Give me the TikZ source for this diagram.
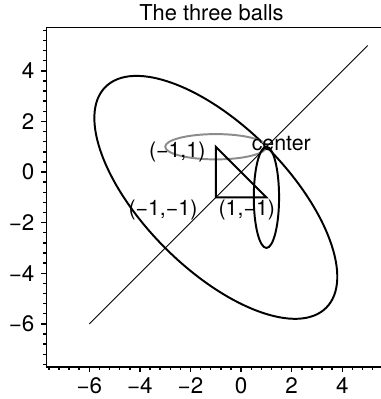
\documentclass[tikz,border=0pt]{standalone}
\usepackage{fontspec}
\setmainfont{TeX Gyre Heros}
\usetikzlibrary{positioning}
\definecolor{cgrey}{HTML}{8C8C8C}
\tikzset{
  every picture/.style={line width=0.6pt},
  axis/.style={line width=0.8pt},
  ball/.style={line width=1.1pt},
  greyball/.style={draw=cgrey, line width=1.1pt},
  tri/.style={line width=1.1pt, line join=miter},
  diag/.style={line width=0.5pt},
  lbl/.style={font=\fontsize{12}{14}\selectfont, inner sep=0pt, anchor=base west},
  ticklbl/.style={font=\fontsize{12.6}{14}\selectfont, inner sep=0pt},
  title/.style={font=\fontsize{12.3}{14}\selectfont, inner sep=0pt},
}

\begin{document}
\begin{tikzpicture}[x=0.5cm, y=0.5cm]
  \useasboundingbox (-9.53,-8.97) rectangle (5.49,6.80);
  \node[title] (ttl) at (-1.17,6.28) {The three balls};

  % frame and ticks
  \draw[axis] (-7.7,5.73) -- (-7.7,-7.7) -- (5.6,-7.7);
  \draw[line width=0.5pt] (-7.7,5.73) -- (5.6,5.73);
  \foreach \i in {0,...,33} {
    \draw[axis] ({-7.6+0.4*\i},-7.7) -- ++(0,-0.12);
    \draw[axis] (-7.7,{-7.6+0.4*\i}) -- ++(-0.12,0);
  }
  \foreach \v/\s in {-6/−6, -4/−4, -2/−2, 0/0, 2/2, 4/4} {
    \draw[axis] (\v,-7.7) -- ++(0,-0.22);
    \draw[axis] (-7.7,\v) -- ++(-0.22,0);
    \node[ticklbl, anchor=north] (x\v) at (\v,-8.1) {\s};
    \node[ticklbl, anchor=east] (y\v) at (-8.15,\v) {\s};
  }

  \coordinate (lo) at (-6,-6);
  \coordinate (hi) at (5,5);
  \coordinate (p) at (-1,1);
  \coordinate (q) at (-1,-1);
  \coordinate (r) at (1,-1);
  \coordinate (c) at (1,1);

  % the balls
  \draw[ball, rotate around={-45:(q)}] (q) ellipse (6.17 and 2.83);
  \draw[greyball] (p) ellipse (2 and 0.5);
  \draw[ball] (r) ellipse (0.5 and 2);

  \draw[diag] (lo) -- (hi);
  \draw[tri] (p) -- (q) -- (r) -- cycle;

  \node[lbl] (lp) at (-3.66,0.58) {(−1,1)};
  \node[lbl] (lq) at (-4.47,-1.73) {(−1,−1)};
  \node[lbl] (lr) at (-0.91,-1.73) {(1,−1)};
  \node[lbl] (lc) at (0.40,0.87) {center};
\end{tikzpicture}
\end{document}
